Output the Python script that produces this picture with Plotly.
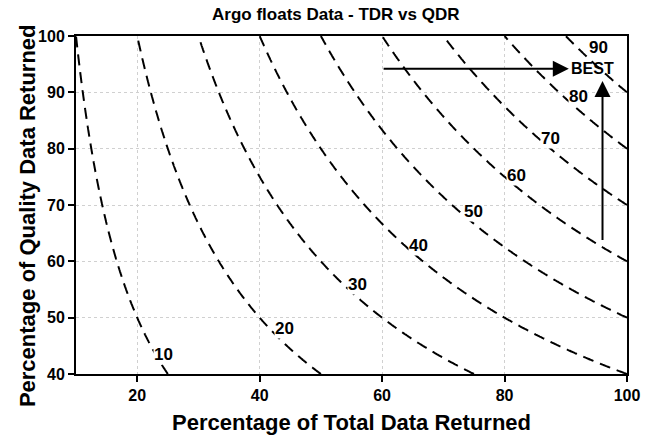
import numpy as np
import plotly.graph_objects as go

# Axes (percentages)
tdr = np.arange(10, 100.01, 0.25)      # Percentage of Total Data Returned
qdr = np.arange(40, 100.01, 0.25)      # Percentage of Quality Data Returned
levels = [10, 20, 30, 40, 50, 60, 70, 80, 90]

# Contour label positions
label_text = ["10", "20", "30", "40", "50", "60", "70", "80", "90"]
label_x = [24.3, 44.0, 56.0, 66.0, 75.0, 82.0, 87.5, 92.0, 95.3]
label_y = [43.5, 48.0, 55.8, 62.8, 68.8, 75.3, 81.8, 89.3, 98.0]

# Arrows toward BEST
arrow_h_tail = (60, 94.2); arrow_h_head = (90.5, 94.2)
arrow_v_tail = (96, 63.5); arrow_v_head = (96, 92.0)
best_pos = (94.3, 94.2)

# Overall data returned = TDR * QDR / 100
z = np.outer(qdr, tdr) / 100.0

fig = go.Figure()
fig.add_trace(go.Contour(
    x=tdr, y=qdr, z=z,
    contours=dict(start=levels[0], end=levels[-1], size=10, coloring="none", showlabels=False),
    line=dict(color="black", width=2, dash="11px,7px"),
    showscale=False, hoverinfo="skip",
))

font_b = dict(family="Liberation Sans, Arial, sans-serif", color="black", weight="bold")

for t, x, y in zip(label_text, label_x, label_y):
    fig.add_annotation(x=x, y=y, text=t, showarrow=False, bgcolor="white",
                       font=dict(size=17, **font_b), borderpad=0)

fig.add_annotation(x=arrow_h_head[0], y=arrow_h_head[1], ax=arrow_h_tail[0], ay=arrow_h_tail[1],
                   xref="x", yref="y", axref="x", ayref="y", text="", showarrow=True,
                   arrowhead=2, arrowsize=1.6, arrowwidth=2, arrowcolor="black")
fig.add_annotation(x=arrow_v_head[0], y=arrow_v_head[1], ax=arrow_v_tail[0], ay=arrow_v_tail[1],
                   xref="x", yref="y", axref="x", ayref="y", text="", showarrow=True,
                   arrowhead=2, arrowsize=1.6, arrowwidth=2, arrowcolor="black")
fig.add_annotation(x=best_pos[0], y=best_pos[1], text="BEST", showarrow=False,
                   font=dict(size=16, **font_b), bgcolor="rgba(0,0,0,0)")

# y-axis title as annotation to sit close to tick labels
fig.add_annotation(xref="paper", yref="paper", x=-0.089, y=0.47, text="Percentage of Quality Data Returned",
                   textangle=-90, showarrow=False, xanchor="center", yanchor="middle",
                   font=dict(size=22, **font_b))

axis_common = dict(
    showline=True, linecolor="black", linewidth=2, mirror=True,
    ticks="outside", ticklen=6, tickwidth=2, tickcolor="black",
    showgrid=True, gridcolor="#d0d0d0", griddash="dot", gridwidth=1,
    zeroline=False, tickfont=dict(size=16, **font_b), automargin=False,
)

fig.update_layout(
    width=652, height=438,
    margin=dict(l=76, r=25, t=36, b=64),
    paper_bgcolor="white", plot_bgcolor="white",
    title=dict(text="Argo floats Data - TDR vs QDR", x=0.515, xanchor="center", y=0.968, yanchor="middle",
               font=dict(size=17, **font_b)),
    xaxis=dict(range=[10, 100], tickvals=[20, 40, 60, 80, 100],
               title=dict(text="Percentage of Total Data Returned", font=dict(size=22, **font_b), standoff=11),
               **axis_common),
    yaxis=dict(range=[40, 100], tickvals=[40, 50, 60, 70, 80, 90, 100], **axis_common),
    showlegend=False,
)

fig.write_html("out.html")
